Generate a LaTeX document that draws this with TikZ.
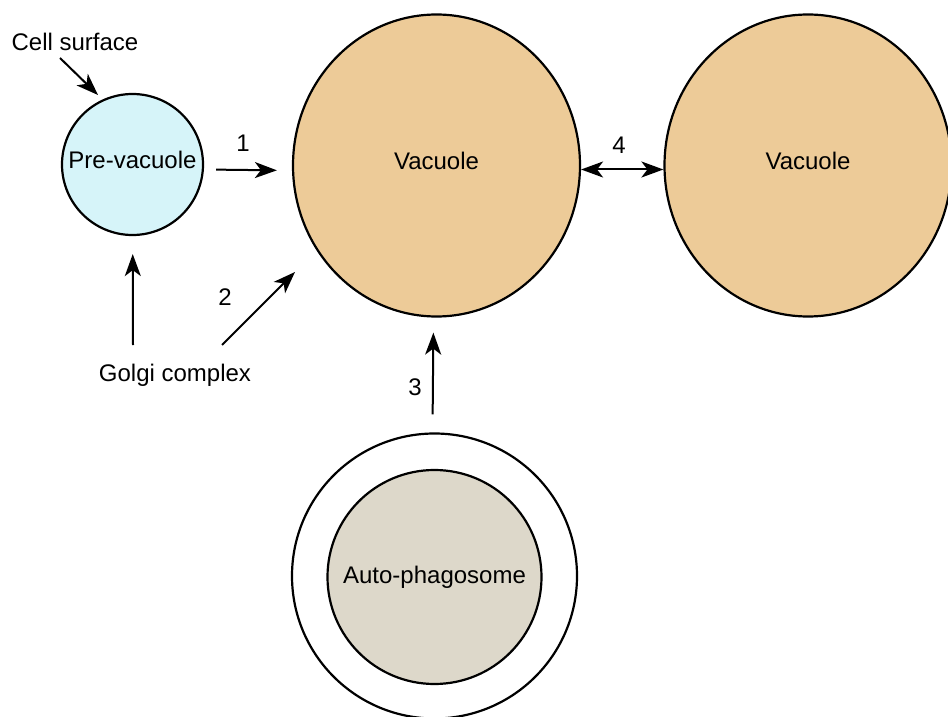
\documentclass[tikz,border=0pt]{standalone}
\usepackage{fontspec}
\setmainfont{Liberation Sans}
\usepackage{xcolor}
\usepackage{tikz}
\usetikzlibrary{arrows.meta,shapes.geometric}

\definecolor{vaccol}{HTML}{EDCB98}
\definecolor{precol}{HTML}{D6F4F9}
\definecolor{autocol}{HTML}{DDD8CA}

\tikzset{
  organelle/.style = {draw, line width=1.1pt, inner sep=0pt},
  lbl/.style = {font=\fontsize{12}{14}\selectfont},
  arr/.style = {line width=1pt, -{Stealth[length=11pt,width=8pt,inset=3pt]}},
  dblarr/.style = {line width=1pt, {Stealth[length=11pt,width=8pt,inset=3pt]}-{Stealth[length=11pt,width=8pt,inset=3pt]}}
}

\begin{document}
\begin{tikzpicture}[x=0.5pt, y=-0.5pt]
    \useasboundingbox (0,0) rectangle (948,717);
    % compartments
    \node[organelle, circle, fill=precol, minimum size=70.5pt, text depth=5pt, lbl] (prevac) at (132.5,164.5) {Pre-vacuole};
    \node[organelle, ellipse, fill=vaccol, minimum width=143.5pt, minimum height=151pt, text depth=5pt, lbl] (vacA) at (436.5,165.5) {Vacuole};
    \node[organelle, ellipse, fill=vaccol, minimum width=143.5pt, minimum height=151pt, text depth=5pt, lbl] (vacB) at (808,165.5) {Vacuole};
    \node[organelle, circle, fill=white, minimum size=142.5pt] (autoout) at (434.5,576) {};
    \node[organelle, circle, fill=autocol, minimum size=107pt, lbl] (autoin) at (434.5,577) {Auto-phagosome};

    \node[lbl] (cellsurf) at (75,42) {Cell surface};
    \node[lbl] (golgi) at (175,375) {Golgi complex};

    \node[lbl] (nA) at (243,143) {1};
    \node[lbl] (nB) at (225,297) {2};
    \node[lbl] (nC) at (415,387) {3};
    \node[lbl] (nD) at (619,145) {4};

    % tails and heads of the free arrows
    \coordinate (cstail) at (60,58);
    \coordinate (cshead) at (98,95);
    \coordinate (gtail) at (133,345);
    \coordinate (gBtail) at (222,345);
    \coordinate (gBhead) at (295,272);

    \draw[arr] (cstail) -- (cshead);
    \draw[arr, shorten <=6pt, shorten >=7.5pt] ([yshift=-2.5pt]prevac.east) -- ([yshift=-2.5pt]vacA.west);
    \draw[arr, shorten >=9pt] (gtail) -- (prevac);
    \draw[arr] (gBtail) -- (gBhead);
    \draw[arr, shorten <=9pt, shorten >=7.5pt] ([xshift=-1pt]autoout.north) -- ([xshift=-1.5pt]vacA.south);
    \draw[dblarr] ([yshift=-2pt]vacA.east) -- ([yshift=-2pt]vacB.west);
\end{tikzpicture}
\end{document}
